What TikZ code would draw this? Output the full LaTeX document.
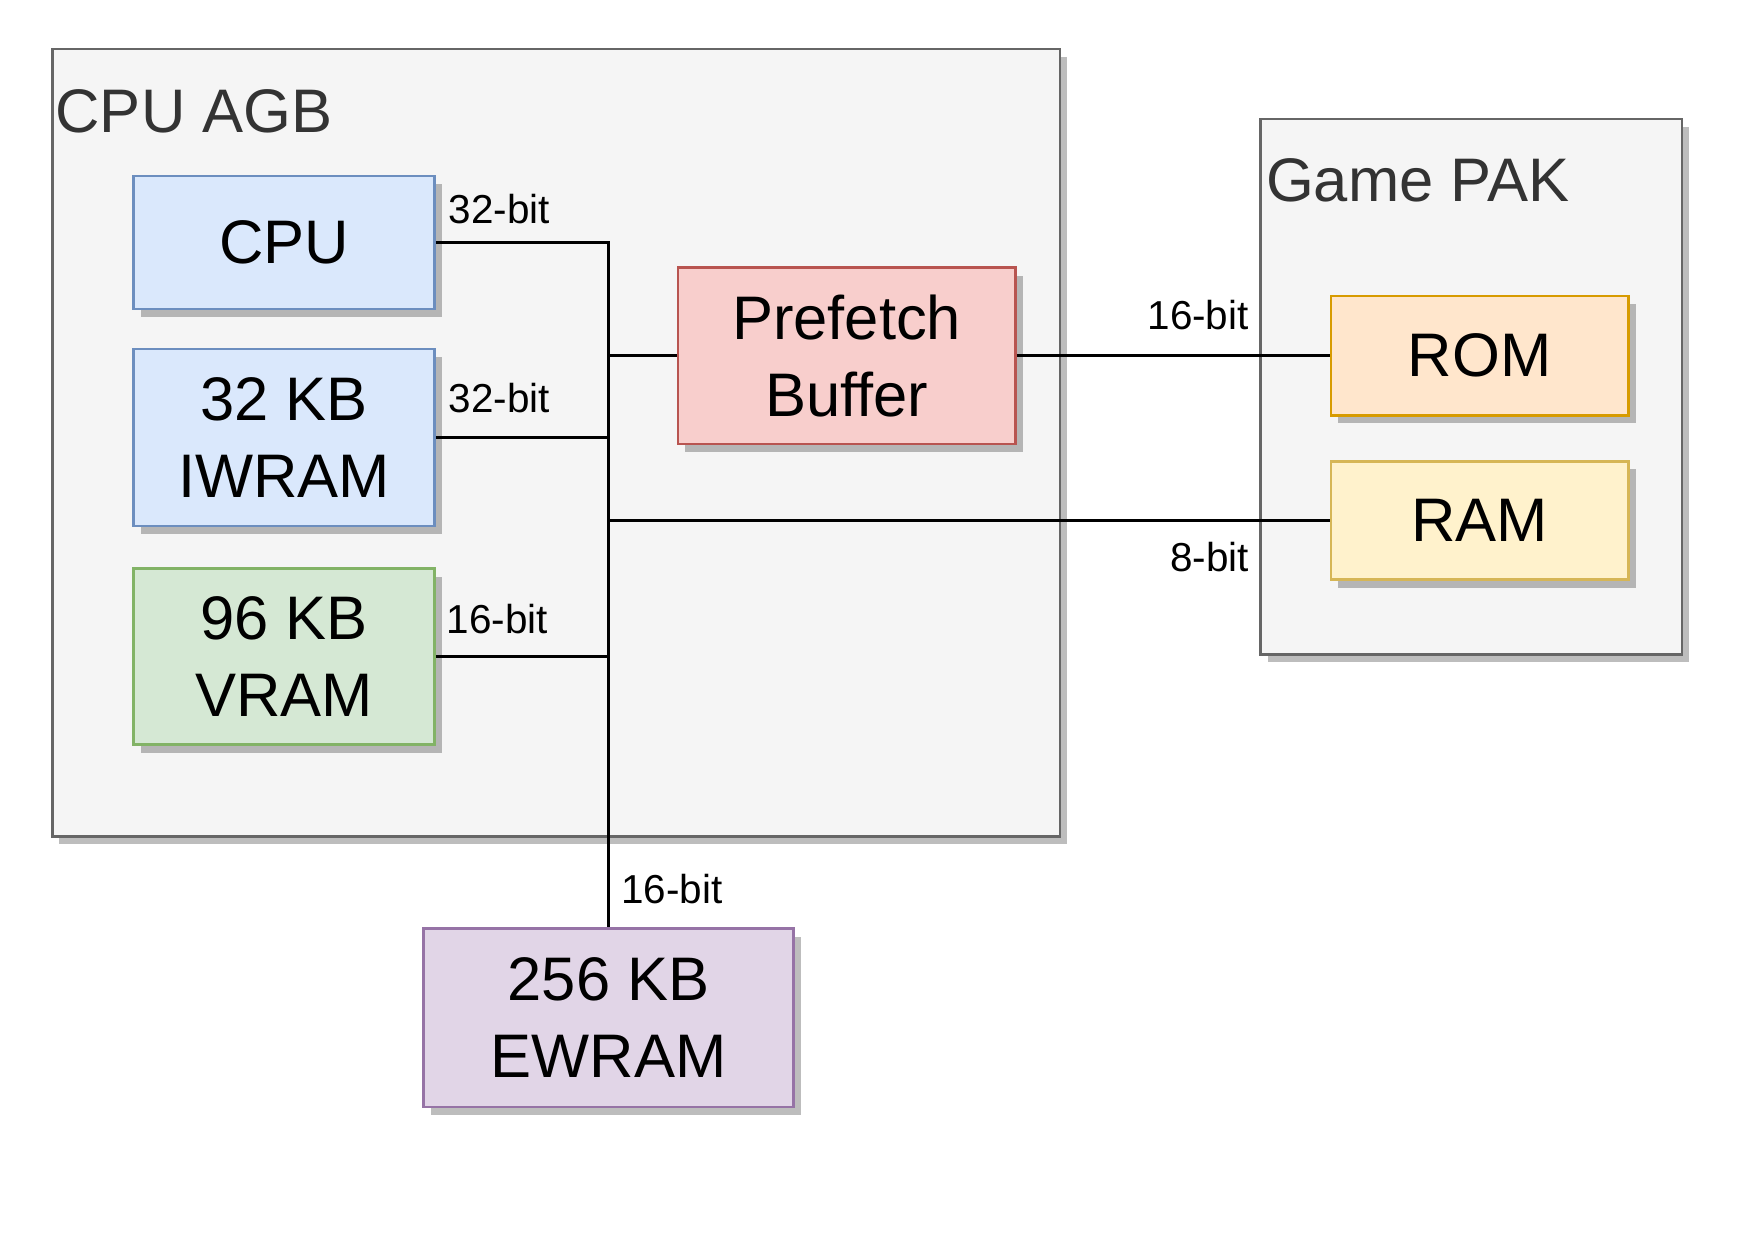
\documentclass[tikz,border=0pt]{standalone}
\usepackage{fontspec}
\setmainfont{Liberation Sans}
\usetikzlibrary{shadows}
\definecolor{grpF}{HTML}{F5F5F5}
\definecolor{grpD}{HTML}{666666}
\definecolor{grpT}{HTML}{333333}
\definecolor{blueF}{HTML}{DAE8FC}
\definecolor{blueD}{HTML}{6C8EBF}
\definecolor{greenF}{HTML}{D5E8D4}
\definecolor{greenD}{HTML}{82B366}
\definecolor{redF}{HTML}{F8CECC}
\definecolor{redD}{HTML}{B85450}
\definecolor{orangeF}{HTML}{FFE6CC}
\definecolor{orangeD}{HTML}{D79B00}
\definecolor{yellowF}{HTML}{FFF2CC}
\definecolor{yellowD}{HTML}{D6B656}
\definecolor{purpleF}{HTML}{E1D5E7}
\definecolor{purpleD}{HTML}{9673A6}
\begin{document}
\begin{tikzpicture}
  [x=0.00998cm,y=-0.00998cm,every node/.style={inner sep=0pt},
   box/.style={draw,line width=0.7pt,align=center,font=\fontsize{17.5}{21.9}\selectfont,
     drop shadow={shadow xshift=0.07cm,shadow yshift=-0.08cm,fill=black,opacity=0.26}},
   container/.style={box,fill=grpF,draw=grpD},
   grptitle/.style={text=grpT,font=\fontsize{17.5}{21}\selectfont},
   bluebox/.style={box,fill=blueF,draw=blueD},
   greenbox/.style={box,fill=greenF,draw=greenD},
   redbox/.style={box,fill=redF,draw=redD},
   orangebox/.style={box,fill=orangeF,draw=orangeD},
   yellowbox/.style={box,fill=yellowF,draw=yellowD},
   purplebox/.style={box,fill=purpleF,draw=purpleD},
   bus/.style={line width=0.85pt},
   bits/.style={font=\fontsize{11.5}{13}\selectfont}]
  \useasboundingbox (0,0) rectangle (17.48cm,-12.4cm);

  \node[container,minimum width=10.075cm,minimum height=7.874cm] (agb) at (557.25,443.5) {};
  \node[container,minimum width=4.215cm,minimum height=5.351cm] (pak) at (1474.5,387.6) {};
  \node[grptitle,anchor=west] (agbtitle) at (55,111.7) {CPU AGB};
  \node[grptitle,anchor=west] (paktitle) at (1268,181) {Game PAK};

  \node[bluebox,minimum width=3.01cm,minimum height=1.327cm] (cpu) at (284.8,243) {CPU};
  \node[bluebox,minimum width=3.01cm,minimum height=1.772cm] (iwram) at (284.8,438.4) {32 KB\\IWRAM};
  \node[greenbox,minimum width=3.01cm,minimum height=1.761cm] (vram) at (284.8,658) {96 KB\\VRAM};
  \node[redbox,minimum width=3.378cm,minimum height=1.762cm] (pfb) at (848.4,356.5) {Prefetch\\Buffer};
  \node[orangebox,minimum width=2.977cm,minimum height=1.194cm] (rom) at (1482.8,356.5) {ROM};
  \node[yellowbox,minimum width=2.977cm,minimum height=1.182cm] (ram) at (1482.8,521.6) {RAM};
  \node[purplebox,minimum width=3.7cm,minimum height=1.783cm] (ewram) at (609.9,1019.8) {256 KB\\EWRAM};

  \draw[bus] (cpu.east) -| (ewram.north);
  \foreach \n/\s in {iwram/east,vram/east,pfb/west,ram/west}
    \draw[bus] (\n.\s) -- (\n.\s -| ewram.north);
  \draw[bus] (pfb.east) -- (rom.west);

  \node[bits,anchor=west] (cpubits) at (449,209) {32-bit};
  \node[bits,anchor=west] (iwrambits) at (449,398.8) {32-bit};
  \node[bits,anchor=west] (vrambits) at (447,620) {16-bit};
  \node[bits,anchor=east] (rombits) at (1252,316) {16-bit};
  \node[bits,anchor=east] (rambits) at (1252,558.5) {8-bit};
  \node[bits,anchor=west] (ewrambits) at (622,891) {16-bit};
\end{tikzpicture}
\end{document}
